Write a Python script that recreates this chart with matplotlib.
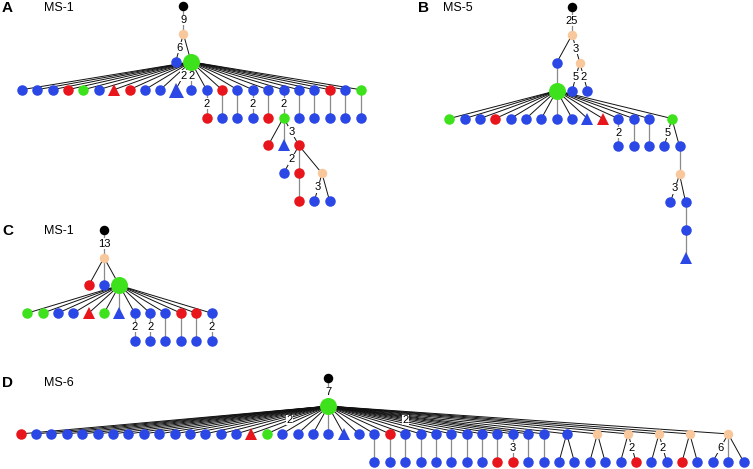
import matplotlib
matplotlib.use("Agg")
import matplotlib.pyplot as plt

plt.rcParams['font.family'] = ['Liberation Sans', 'DejaVu Sans']

W, H = 753, 469

# node kinds: k root, p peach, b blue, r red, g green, G big green,
# bt / rt small triangles, BT big blue triangle
# every node: column, level, kind, column of its parent one level up
# edge labels keyed by (column, level) of the child node

a_col = [10.5, 10.5, 10, 11] + list(range(23)) + list(range(12, 23)) + [16, 17, 18, 17, 18, 19.5, 18, 19, 20]
a_lvl = [0, 1, 2, 2] + [3] * 23 + [4] * 11 + [5] * 3 + [6] * 3 + [7] * 3
a_parent = [None, 10.5, 10.5, 10.5] + [11] * 23 + list(range(12, 23)) + [17] * 3 + [18] * 3 + [18, 19.5, 19.5]
a_kind = ("k p b G "
          "b b b r g b rt r b b BT b b r b b b b b b r b g "
          "r b b b r g b b b b b "
          "r bt r b r p r b b").split()
a_labels = {(10.5, 1): '9', (10, 2): '6', (10, 3): '2', (11, 3): '2', (12, 4): '2',
            (15, 4): '2', (17, 4): '2', (18, 5): '3', (17, 6): '2', (19, 7): '3'}

b_col = [8, 8, 7, 8.5, 7, 8, 9] + list(range(14)) + [14.5] + [11, 12, 13, 14, 15] + [15, 14.4, 15.4, 15.4, 15.4]
b_lvl = [0, 1, 2, 2, 3, 3, 3] + [4] * 15 + [5] * 5 + [6, 7, 7, 8, 9]
b_parent = [None, 8, 8, 8, 7, 8.5, 8.5] + [7] * 15 + [11, 12, 13, 14.5, 14.5] + [15, 15, 15, 15.4, 15.4]
b_kind = ("k p b p G b b "
          "g b b r b b b b b bt rt b b b g "
          "b b b b b "
          "p b b b bt").split()
b_labels = {(8, 1): '25', (8.5, 2): '3', (8, 3): '5', (9, 3): '2',
            (11, 5): '2', (14, 5): '5', (14.4, 7): '3'}

c_col = [5, 5, 4, 5, 6] + list(range(13)) + list(range(7, 13))
c_lvl = [0, 1, 2, 2, 2] + [3] * 13 + [4] * 6
c_parent = [None, 5, 5, 5, 5] + [6] * 13 + list(range(7, 13))
c_kind = ("k p r b G "
          "g g b b rt g bt b b b r r b "
          "b b b b b b").split()
c_labels = {(5, 1): '13', (7, 4): '2', (8, 4): '2', (12, 4): '2'}

d_col = ([20, 20] + list(range(35)) + [35.5, 37.5, 39.5, 41.5, 43.5, 46]
         + list(range(23, 35)) + list(range(35, 48)))
d_lvl = [0, 1] + [2] * 41 + [3] * 25
d_parent = ([None, 20] + [20] * 41 + list(range(23, 35))
            + [35.5, 35.5, 37.5, 37.5, 39.5, 39.5, 41.5, 41.5, 43.5, 43.5, 46, 46, 46])
d_kind = ("k G "
          "r b b b b b b b b b b b b b b "
          "rt g b b b b bt b b r "
          "b b b b b b b b b b "
          "b p p p p p "
          "b b b b b b b b r r b b "
          "b b b b b r b b r b b b b").split()
d_labels = {(20, 1): '7', (15, 2): '2', (30, 2): '2', (32, 3): '3',
            (40, 3): '2', (42, 3): '2', (45, 3): '6'}

BLUE = '#2b47e6'
RED = '#e8161c'
GREEN = '#3ee21c'
PEACH = '#f8c89c'
px = 0.72  # points per pixel at dpi 100
style = {
    'k': ('o', 'black', 9.5),
    'p': ('o', PEACH, 9.5),
    'b': ('o', BLUE, 10.5),
    'r': ('o', RED, 10.5),
    'g': ('o', GREEN, 10.5),
    'G': ('o', GREEN, 17),
    'bt': ('^', BLUE, 11.5),
    'rt': ('^', RED, 11.5),
    'BT': ('^', BLUE, 15),
}

fig = plt.figure(figsize=(W / 100, H / 100), dpi=100)


def draw_tree(col, lvl, parent, kind, labels, x0, dx, y0, dy):
    ax = fig.add_axes([0, 0, 1, 1])
    ax.set_xlim(-x0 / dx, (W - x0) / dx)
    ax.set_ylim((H - y0) / dy, -y0 / dy)
    ax.axis('off')
    ax.patch.set_alpha(0)
    for c, l, pc in zip(col, lvl, parent):
        if pc is None:
            continue
        vert = pc == c
        ax.plot([pc, c], [l - 1, l], color='#8a8a8a' if vert else '#111111',
                lw=0.9 if vert else 0.7, zorder=1, solid_capstyle='butt')
        if (c, l) in labels:
            ax.text((pc + c) / 2, l - 0.5, labels[(c, l)], ha='center', va='center',
                    fontsize=8, zorder=2,
                    bbox=dict(facecolor='white', edgecolor='none', pad=0.3))
    for c, l, k in zip(col, lvl, kind):
        m, color, size = style[k]
        ax.plot(c, l, marker=m, color=color, ms=size * px, mew=0, ls='none', zorder=3)


draw_tree(a_col, a_lvl, a_parent, a_kind, a_labels, 21.7, 15.4, 6, 27.9)
draw_tree(b_col, b_lvl, b_parent, b_kind, b_labels, 449.3, 15.35, 6.7, 27.96)
draw_tree(c_col, c_lvl, c_parent, c_kind, c_labels, 27.3, 15.35, 230, 27.7)
draw_tree(d_col, d_lvl, d_parent, d_kind, d_labels, 20.7, 15.38, 378.3, 27.8)

panels = [('A', 'MS-1', 2, 44, 8), ('B', 'MS-5', 418, 443, 8),
          ('C', 'MS-1', 2, 44, 231), ('D', 'MS-6', 2, 44, 383)]
for letter, name, lx, nx, y in panels:
    fig.text(lx / W, 1 - y / H, letter, fontsize=11, fontweight='bold', va='center', ha='left')
    fig.text(nx / W, 1 - y / H, name, fontsize=9, va='center', ha='left')

fig.savefig('out.png', dpi=100)
